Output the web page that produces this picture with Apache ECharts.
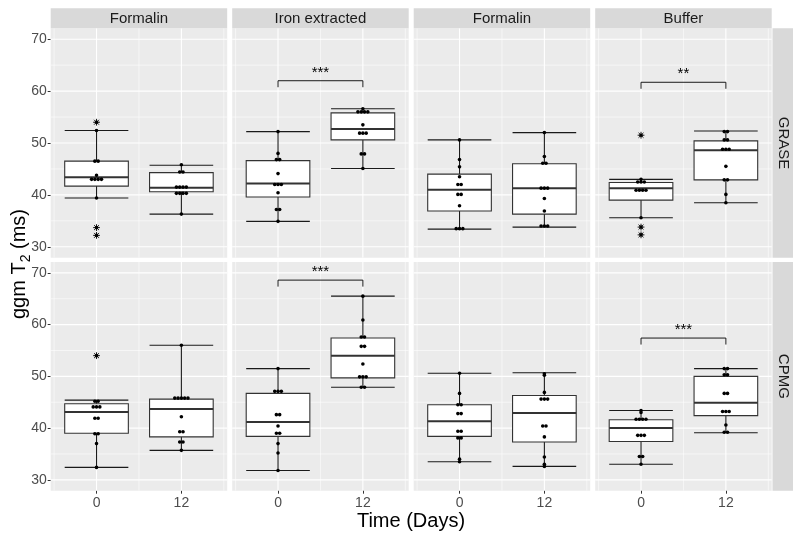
<!DOCTYPE html>
<html><head><meta charset="utf-8">
<script src="https://cdn.jsdelivr.net/npm/echarts@6/dist/echarts.min.js"></script>
<style>html,body{margin:0;padding:0;background:#fff}#c{width:800px;height:537px}</style>
</head><body><div id="c"></div><script>
// ---------------- DATA ----------------
const facetLabels = ['Formalin', 'Iron extracted', 'Formalin', 'Buffer'];
const rowLabels = ['GRASE', 'CPMG'];
const dayLabels = ['0', '12'];
const yTicks = [30, 40, 50, 60, 70];
const yMinorTicks = [35, 45, 55, 65];
const xMajorTicks = [1, 2];
const xMinorTicks = [0.5, 1.5, 2.5];

// individual measurements (ms)
const graseFormalinA_d0  = [54.0, 52.4, 46.5, 46.5, 43.8, 43.0, 43.0, 43.0, 43.0, 39.4, 33.7, 32.2];
const graseFormalinA_d12 = [45.8, 44.4, 44.4, 41.5, 41.5, 41.5, 41.5, 40.3, 40.3, 40.3, 40.3, 36.3];
const graseIron_d0       = [52.2, 48.0, 46.8, 46.8, 44.1, 42.0, 42.0, 42.0, 40.4, 37.2, 37.2, 34.9];
const graseIron_d12      = [56.6, 56.0, 56.0, 56.0, 56.0, 53.5, 51.9, 51.9, 51.9, 47.9, 47.9, 45.1];
const graseFormalinB_d0  = [50.6, 46.8, 45.4, 43.5, 42.0, 42.0, 40.1, 40.1, 37.9, 33.5, 33.5, 33.5];
const graseFormalinB_d12 = [52.0, 47.4, 46.1, 46.1, 41.3, 41.3, 41.3, 39.3, 36.9, 34.0, 34.0, 34.0];
const graseBuffer_d0     = [51.5, 43.0, 42.5, 42.5, 42.5, 40.9, 40.9, 40.9, 40.9, 35.6, 33.8, 32.3];
const graseBuffer_d12    = [52.2, 52.2, 50.6, 50.6, 48.8, 48.8, 48.8, 45.5, 42.9, 42.9, 40.1, 38.5];
const cpmgFormalinA_d0   = [54.0, 45.2, 45.2, 44.1, 44.1, 44.1, 41.9, 41.9, 38.9, 38.9, 37.0, 32.4];
const cpmgFormalinA_d12  = [56.0, 45.8, 45.8, 45.8, 45.8, 45.8, 42.2, 39.3, 39.3, 37.3, 37.3, 35.7];
const cpmgIron_d0        = [51.5, 47.1, 47.1, 47.1, 42.6, 42.6, 40.4, 39.0, 39.0, 37.0, 35.2, 31.8];
const cpmgIron_d12       = [65.5, 60.9, 57.6, 57.6, 55.8, 55.8, 52.4, 49.9, 49.9, 49.9, 47.9, 47.9];
const cpmgFormalinB_d0   = [50.6, 46.7, 44.5, 44.5, 42.8, 42.8, 39.4, 39.4, 38.1, 38.1, 34.0, 33.5];
const cpmgFormalinB_d12  = [50.5, 50.2, 46.9, 45.6, 45.6, 45.6, 40.4, 40.4, 38.3, 34.4, 33.0, 32.6];
const cpmgBuffer_d0      = [43.4, 43.0, 41.7, 41.7, 41.7, 41.7, 38.6, 38.6, 38.6, 34.5, 34.5, 33.0];
const cpmgBuffer_d12     = [51.5, 51.5, 50.3, 50.3, 46.7, 46.7, 43.2, 43.2, 43.2, 40.6, 39.2, 39.2];

// box statistics [lower whisker, Q1, median, Q3, upper whisker]
const graseFormalinA_box  = [[39.4, 41.7, 43.4, 46.5, 52.4], [36.3, 40.6, 41.4, 44.3, 45.7]];
const graseIron_box       = [[34.9, 39.6, 42.2, 46.6, 52.2], [45.1, 50.6, 52.7, 55.8, 56.6]];
const graseFormalinB_box  = [[33.4, 36.9, 41.0, 44.0, 50.6], [33.8, 36.3, 41.3, 46.0, 52.0]];
const graseBuffer_box     = [[35.6, 39.0, 41.3, 42.4, 43.0], [38.5, 42.9, 48.6, 50.4, 52.3]];
const cpmgFormalinA_box   = [[32.4, 39.0, 43.1, 44.7, 45.4], [35.7, 38.3, 43.7, 45.6, 56.0]];
const cpmgIron_box        = [[31.8, 38.4, 41.2, 46.7, 51.5], [47.9, 49.7, 54.0, 57.4, 65.5]];
const cpmgFormalinB_box   = [[33.5, 38.4, 41.3, 44.5, 50.6], [32.6, 37.3, 42.9, 46.3, 50.7]];
const cpmgBuffer_box      = [[33.0, 37.4, 40.0, 41.6, 43.4], [39.1, 42.4, 44.9, 50.0, 51.5]];

// outliers (day 0 only)
const graseFormalinA_out = [54.0, 33.7, 32.2];
const graseBuffer_out    = [51.5, 33.8, 32.3];
const cpmgFormalinA_out  = [54.0];

// significance brackets (height in ms, label)
const graseIron_sig   = [62.0, '***'];
const graseBuffer_sig = [61.7, '**'];
const cpmgIron_sig    = [68.6, '***'];
const cpmgBuffer_sig  = [57.4, '***'];

// ---------------- PANELS ----------------
const panels = [
  {pts: [graseFormalinA_d0, graseFormalinA_d12], box: graseFormalinA_box, out: graseFormalinA_out, sig: null},
  {pts: [graseIron_d0, graseIron_d12], box: graseIron_box, out: [], sig: graseIron_sig},
  {pts: [graseFormalinB_d0, graseFormalinB_d12], box: graseFormalinB_box, out: [], sig: null},
  {pts: [graseBuffer_d0, graseBuffer_d12], box: graseBuffer_box, out: graseBuffer_out, sig: graseBuffer_sig},
  {pts: [cpmgFormalinA_d0, cpmgFormalinA_d12], box: cpmgFormalinA_box, out: cpmgFormalinA_out, sig: null},
  {pts: [cpmgIron_d0, cpmgIron_d12], box: cpmgIron_box, out: [], sig: cpmgIron_sig},
  {pts: [cpmgFormalinB_d0, cpmgFormalinB_d12], box: cpmgFormalinB_box, out: [], sig: null},
  {pts: [cpmgBuffer_d0, cpmgBuffer_d12], box: cpmgBuffer_box, out: [], sig: cpmgBuffer_sig}
];

// ---------------- LAYOUT ----------------
const colLeft = [50.7, 232.2, 413.7, 595.2];
const colW = 176.5;
const rowTop = [28.3, 262.0];
const rowH = [229.4, 228.7];
const Y_MIN = 27.9, Y_MAX = 72.1;
const X_MIN = 0.46, X_MAX = 2.54;
const FONT = '"Liberation Sans", Arial, sans-serif';

const grids = [], xAxes = [], yAxes = [], series = [], graphics = [];

function gridRender(params, api) {
  const cs = params.coordSys;
  const v = api.value(0), vert = api.value(1), major = api.value(2);
  const lw = major ? 1.1 : 0.55;
  if (vert) {
    const x = api.coord([v, Y_MIN])[0];
    return {type: 'line', shape: {x1: x, y1: cs.y, x2: x, y2: cs.y + cs.height}, style: {stroke: '#ffffff', lineWidth: lw}, silent: true};
  }
  const y = api.coord([X_MIN, v])[1];
  return {type: 'line', shape: {x1: cs.x, y1: y, x2: cs.x + cs.width, y2: y}, style: {stroke: '#ffffff', lineWidth: lw}, silent: true};
}

function boxRender(params, api) {
  const x = api.value(0);
  const lo = api.coord([x, api.value(1)]), q1 = api.coord([x, api.value(2)]),
        md = api.coord([x, api.value(3)]), q3 = api.coord([x, api.value(4)]),
        hi = api.coord([x, api.value(5)]);
  const hw = api.size([0.75, 0])[0] / 2;
  const cx = lo[0];
  const ws = {stroke: '#1a1a1a', lineWidth: 1.1};
  const bs = {stroke: '#333333', lineWidth: 1.1, fill: '#ffffff'};
  return {type: 'group', children: [
    {type: 'line', shape: {x1: cx, y1: lo[1], x2: cx, y2: hi[1]}, style: ws},
    {type: 'line', shape: {x1: cx - hw, y1: lo[1], x2: cx + hw, y2: lo[1]}, style: ws},
    {type: 'line', shape: {x1: cx - hw, y1: hi[1], x2: cx + hw, y2: hi[1]}, style: ws},
    {type: 'rect', shape: {x: cx - hw, y: q3[1], width: 2 * hw, height: q1[1] - q3[1]}, style: bs},
    {type: 'line', shape: {x1: cx - hw, y1: md[1], x2: cx + hw, y2: md[1]}, style: {stroke: '#333333', lineWidth: 2}}
  ]};
}

function pointRender(params, api) {
  const p = api.coord([api.value(0), api.value(1)]);
  const dx = api.value(2) * 3.3;
  return {type: 'circle', shape: {cx: p[0] + dx, cy: p[1], r: 1.8}, style: {fill: '#000000'}};
}

function starRender(params, api) {
  const p = api.coord([api.value(0), api.value(1)]);
  const r = 3.4, d = r * 0.72;
  const st = {stroke: '#000000', lineWidth: 0.9};
  return {type: 'group', children: [
    {type: 'line', shape: {x1: p[0] - r, y1: p[1], x2: p[0] + r, y2: p[1]}, style: st},
    {type: 'line', shape: {x1: p[0], y1: p[1] - r, x2: p[0], y2: p[1] + r}, style: st},
    {type: 'line', shape: {x1: p[0] - d, y1: p[1] - d, x2: p[0] + d, y2: p[1] + d}, style: st},
    {type: 'line', shape: {x1: p[0] - d, y1: p[1] + d, x2: p[0] + d, y2: p[1] - d}, style: st}
  ]};
}

function makeBracketRender(label) {
  return function (params, api) {
    const y = api.value(2);
    const a = api.coord([api.value(0), y]), b = api.coord([api.value(1), y]);
    const tip = 6.5;
    return {type: 'group', children: [
      {type: 'polyline', shape: {points: [[a[0], a[1] + tip], [a[0], a[1]], [b[0], b[1]], [b[0], b[1] + tip]]},
       style: {stroke: '#000000', lineWidth: 0.9, fill: null}},
      {type: 'text', x: (a[0] + b[0]) / 2, y: a[1] - 0.5,
       style: {text: label, fill: '#000000', font: '15px ' + FONT, align: 'center', verticalAlign: 'bottom'}}
    ]};
  };
}

panels.forEach((pn, i) => {
  const r = Math.floor(i / 4), c = i % 4;
  grids.push({left: colLeft[c], top: rowTop[r], width: colW, height: rowH[r], show: true,
    backgroundColor: '#ebebeb', borderWidth: 0, containLabel: false});
  xAxes.push({type: 'value', gridIndex: i, min: X_MIN, max: X_MAX,
    axisLine: {show: false}, splitLine: {show: false},
    axisTick: {show: r === 1, customValues: xMajorTicks, length: 3, lineStyle: {color: '#333333', width: 1}},
    axisLabel: {show: r === 1, customValues: xMajorTicks, formatter: v => dayLabels[Math.round(v) - 1],
      color: '#4d4d4d', fontSize: 14, fontFamily: FONT, margin: 5}});
  yAxes.push({type: 'value', gridIndex: i, min: Y_MIN, max: Y_MAX,
    axisLine: {show: false}, splitLine: {show: false},
    axisTick: {show: c === 0, customValues: yTicks, length: 3, lineStyle: {color: '#333333', width: 1}},
    axisLabel: {show: c === 0, customValues: yTicks, color: '#4d4d4d', fontSize: 14, fontFamily: FONT, margin: 4}});

  const gl = [];
  yTicks.forEach(v => gl.push([v, 0, 1]));
  yMinorTicks.forEach(v => gl.push([v, 0, 0]));
  xMajorTicks.forEach(v => gl.push([v, 1, 1]));
  xMinorTicks.forEach(v => gl.push([v, 1, 0]));
  series.push({type: 'custom', xAxisIndex: i, yAxisIndex: i, renderItem: gridRender, data: gl, z: 1, silent: true, clip: true});

  series.push({type: 'custom', xAxisIndex: i, yAxisIndex: i, renderItem: boxRender, z: 2, silent: true,
    data: pn.box.map((b, k) => [k + 1].concat(b))});

  const pd = [];
  pn.pts.forEach((vals, k) => {
    const groups = {};
    vals.forEach(v => { const key = v.toFixed(1); (groups[key] = groups[key] || []).push(v); });
    Object.keys(groups).forEach(key => {
      const g = groups[key];
      g.forEach((v, j) => pd.push([k + 1, v, j - (g.length - 1) / 2]));
    });
  });
  series.push({type: 'custom', xAxisIndex: i, yAxisIndex: i, renderItem: pointRender, z: 4, silent: true, data: pd});

  if (pn.out.length) {
    series.push({type: 'custom', xAxisIndex: i, yAxisIndex: i, renderItem: starRender, z: 3, silent: true,
      data: pn.out.map(v => [1, v])});
  }
  if (pn.sig) {
    series.push({type: 'custom', xAxisIndex: i, yAxisIndex: i, renderItem: makeBracketRender(pn.sig[1]), z: 5, silent: true,
      clip: false, data: [[1, 2, pn.sig[0]]]});
  }
});

// facet strips (top)
facetLabels.forEach((lab, c) => {
  graphics.push({type: 'rect', shape: {x: colLeft[c], y: 8.3, width: colW, height: 20}, style: {fill: '#d9d9d9'}, silent: true});
  graphics.push({type: 'text', x: colLeft[c] + colW / 2, y: 18.5,
    style: {text: lab, fill: '#1a1a1a', font: '15px ' + FONT, align: 'center', verticalAlign: 'middle'}, silent: true});
});
// facet strips (right)
rowLabels.forEach((lab, r) => {
  graphics.push({type: 'rect', shape: {x: 772.5, y: rowTop[r], width: 20.5, height: rowH[r]}, style: {fill: '#d9d9d9'}, silent: true});
  graphics.push({type: 'text', x: 783, y: rowTop[r] + rowH[r] / 2, rotation: -Math.PI / 2,
    style: {text: lab, fill: '#1a1a1a', font: '15px ' + FONT, align: 'center', verticalAlign: 'middle'}, silent: true});
});
// axis titles
graphics.push({type: 'text', x: 411, y: 521,
  style: {text: 'Time (Days)', fill: '#000000', font: '20px ' + FONT, align: 'center', verticalAlign: 'middle'}, silent: true});
graphics.push({type: 'text', x: 19, y: 264, rotation: Math.PI / 2,
  style: {text: '{a|ggm T}{s|2}{a| (ms)}', align: 'center', verticalAlign: 'middle',
    rich: {a: {fontSize: 20, fontFamily: FONT, fill: '#000000', lineHeight: 28},
           s: {fontSize: 14, fontFamily: FONT, fill: '#000000', lineHeight: 14, verticalAlign: 'bottom'}}}, silent: true});

const chart = echarts.init(document.getElementById('c'), null, {renderer: 'canvas', width: 800, height: 537});
chart.setOption({
  animation: false,
  backgroundColor: '#ffffff',
  grid: grids, xAxis: xAxes, yAxis: yAxes, series: series,
  graphic: {elements: graphics}
});
</script></body></html>
